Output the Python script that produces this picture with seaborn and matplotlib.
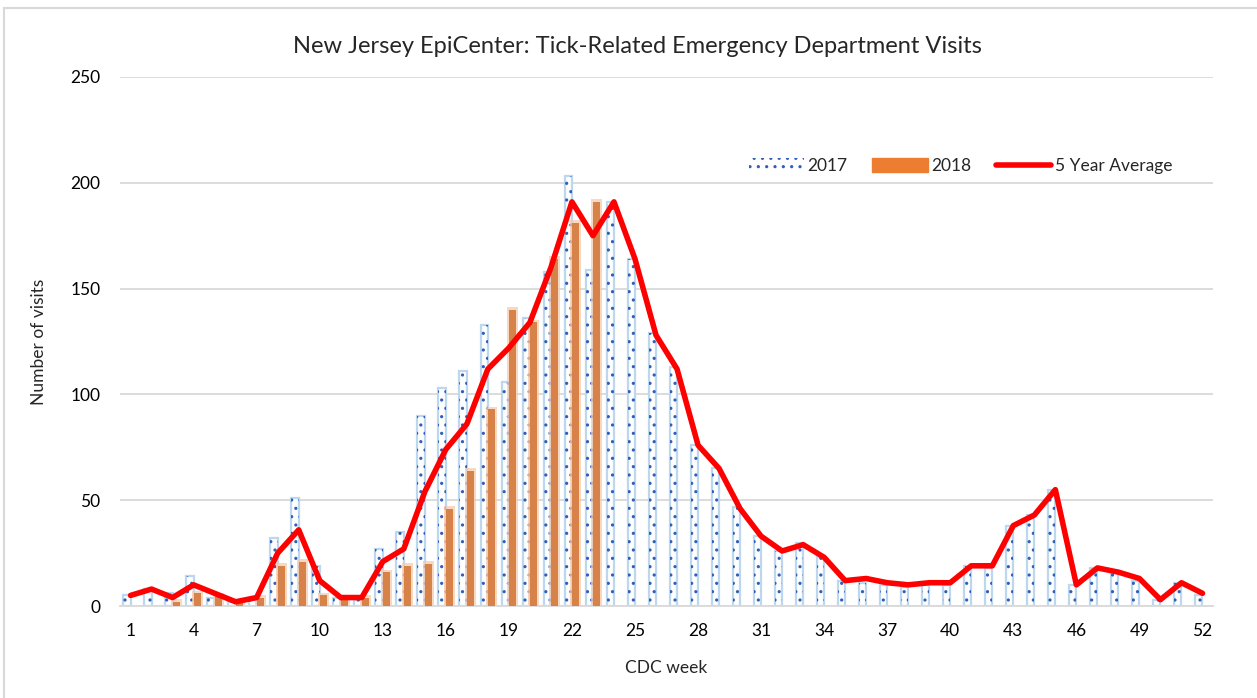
import numpy as np
import pandas as pd
import matplotlib
matplotlib.use("Agg")
import matplotlib.pyplot as plt
import seaborn as sns
from matplotlib.patches import Patch, Rectangle
from matplotlib.lines import Line2D

# data
weeks = list(range(1, 53))
visits_2017 = [5, 8, 6, 14, 4, 2, 3, 32, 51, 19, 4, 3, 27, 35, 90, 103, 111, 133,
               106, 136, 158, 203, 159, 191, 164, 129, 113, 76, 65, 47, 33, 26, 30,
               23, 12, 11, 10, 9, 10, 10, 19, 18, 38, 43, 55, 10, 18, 16, 12, 3, 11, 5]
visits_2018 = [0, 0, 2, 6, 5, 2, 4, 19, 21, 5, 4, 4, 16, 19, 20, 46, 64, 93, 140,
               134, 164, 181, 191] + [np.nan] * 29
avg_5yr = [5, 8, 4, 10, 6, 2, 4, 25, 36, 12, 4, 4, 21, 27, 54, 74, 86, 112, 122,
           134, 160, 191, 175, 191, 164, 128, 112, 76, 65, 46, 33, 26, 29, 23, 12,
           13, 11, 10, 11, 11, 19, 19, 38, 43, 55, 10, 18, 16, 13, 3, 11, 6]
x_ticks = list(range(1, 53, 3))
y_ticks = [0, 50, 100, 150, 200, 250]
series = ["2017", "2018"]

sns.set_theme(style="white")
plt.rcParams["font.family"] = ["Lato", "DejaVu Sans"]
plt.rcParams["hatch.linewidth"] = 1.1

bars = pd.DataFrame({
    "week": weeks * 2,
    "visits": visits_2017 + visits_2018,
    "year": [series[0]] * 52 + [series[1]] * 52,
})
avg = pd.DataFrame({"week": weeks, "visits": avg_5yr})

fig = plt.figure(figsize=(12.57, 6.98), dpi=100)
ax = fig.add_axes([0.0955, 0.1318, 0.8695, 0.7579])

sns.barplot(data=bars, x="week", y="visits", hue="year", hue_order=series,
            native_scale=True, width=0.7, palette=["white", "#ED7D31"],
            errorbar=None, legend=False, ax=ax)

# 2017: white bars, light blue outline, blue dot pattern
for bar in ax.containers[0]:
    bar.set_edgecolor("#BDD7EE")
    bar.set_linewidth(1.6)
    bar.set_zorder(2)
    ax.add_patch(Rectangle(bar.get_xy(), bar.get_width(), bar.get_height(),
                           fill=False, hatch="..", edgecolor="#2F5FB8",
                           linewidth=0, zorder=2.1))
# 2018: orange with a soft glow behind
for bar in ax.containers[1]:
    bar.set_linewidth(0)
    bar.set_zorder(3)
    h = bar.get_height()
    if np.isfinite(h) and h > 0:
        x0, w = bar.get_x(), bar.get_width()
        ax.add_patch(Rectangle((x0 - 0.08, 0), w + 0.16, h + 1.2,
                               facecolor="#F8CBAD", alpha=0.75, linewidth=0,
                               zorder=2.5))

sns.lineplot(data=avg, x="week", y="visits", color="#FF0000", linewidth=4,
             ax=ax, zorder=5)

ax.set_xlim(0.5, 52.5)
ax.set_ylim(0, 250)
ax.set_xticks(x_ticks)
ax.set_yticks(y_ticks)
ax.yaxis.grid(True, color="#D9D9D9", linewidth=1.3)
ax.set_axisbelow(True)
for s in ["top", "right", "left"]:
    ax.spines[s].set_visible(False)
ax.spines["bottom"].set_color("#D9D9D9")
ax.spines["bottom"].set_linewidth(1.3)
ax.tick_params(axis="both", length=0, labelsize=12.5, colors="black")
ax.tick_params(axis="y", pad=14)
ax.tick_params(axis="x", pad=12)
ax.set_xlabel("CDC week", fontsize=12.5, labelpad=15)
ax.set_ylabel("Number of visits", fontsize=12.5, labelpad=0)
ax.yaxis.set_label_coords(-0.067, 0.5)

fig.text(0.507, 0.934, "New Jersey EpiCenter: Tick-Related Emergency Department Visits",
         ha="center", va="center", fontsize=17)

handles = [
    Patch(facecolor="white", edgecolor="#2F5FB8", hatch="..", linewidth=0),
    Patch(facecolor="#ED7D31", edgecolor="#ED7D31"),
    Line2D([], [], color="#FF0000", linewidth=4),
]
fig.legend(handles, ["2017", "2018", "5 Year Average"], loc="center",
           bbox_to_anchor=(0.764, 0.762), ncol=3, frameon=False, fontsize=12.5,
           handlelength=3.2, handleheight=0.8, handletextpad=0.2, columnspacing=1.4)

# light chart border
fig.add_artist(Rectangle((0.0032, -0.05), 2, 1.0385, transform=fig.transFigure,
                         fill=False, edgecolor="#D9D9D9", linewidth=1.5))

fig.savefig("out.png", dpi=100)
